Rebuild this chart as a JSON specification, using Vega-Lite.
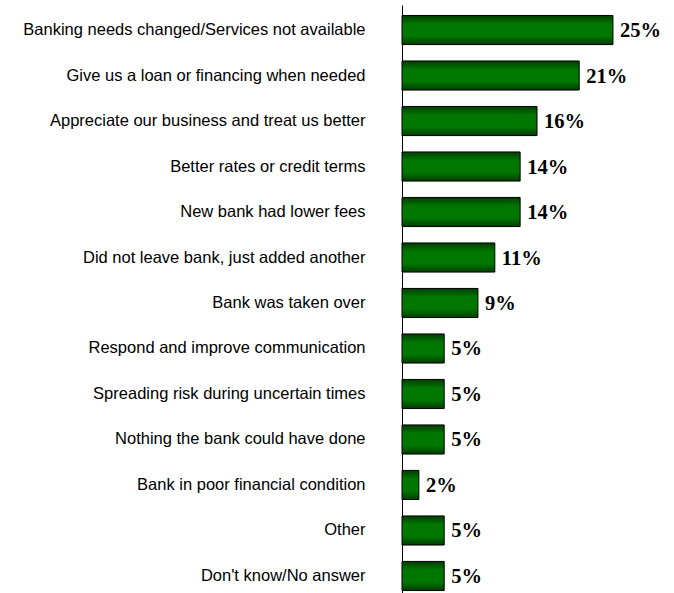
{
  "$schema": "https://vega.github.io/schema/vega-lite/v6.json",
  "width": 270,
  "height": 596,
  "autosize": "none",
  "padding": {"left": 402, "top": 5, "right": 2, "bottom": 0},
  "background": "white",
  "config": {"view": {"stroke": null}},
  "data": {"values": [
    {"reason": "Banking needs changed/Services not available", "pct": 25, "label": "25%"},
    {"reason": "Give us a loan or financing when needed", "pct": 21, "label": "21%"},
    {"reason": "Appreciate our business and treat us better", "pct": 16, "label": "16%"},
    {"reason": "Better rates or credit terms", "pct": 14, "label": "14%"},
    {"reason": "New bank had lower fees", "pct": 14, "label": "14%"},
    {"reason": "Did not leave bank, just added another", "pct": 11, "label": "11%"},
    {"reason": "Bank was taken over", "pct": 9, "label": "9%"},
    {"reason": "Respond and improve communication", "pct": 5, "label": "5%"},
    {"reason": "Spreading risk during uncertain times", "pct": 5, "label": "5%"},
    {"reason": "Nothing the bank could have done", "pct": 5, "label": "5%"},
    {"reason": "Bank in poor financial condition", "pct": 2, "label": "2%"},
    {"reason": "Other", "pct": 5, "label": "5%"},
    {"reason": "Don't know/No answer", "pct": 5, "label": "5%"}
  ]},
  "encoding": {
    "y": {
      "field": "reason", "type": "nominal", "sort": null,
      "scale": {"paddingInner": 0.36, "paddingOuter": 0.23},
      "axis": {
        "title": null, "ticks": false, "labelPadding": 37,
        "labelFont": "Liberation Sans", "labelFontSize": 16.5, "labelColor": "#000",
        "labelLimit": 400, "domainColor": "#000", "domainWidth": 1
      }
    },
    "x": {
      "field": "pct", "type": "quantitative",
      "scale": {"domain": [0, 32]},
      "axis": null
    }
  },
  "layer": [
    {
      "mark": {
        "type": "bar",
        "stroke": "#000",
        "strokeWidth": 1,
        "fill": {
          "gradient": "linear", "x1": 0, "y1": 0, "x2": 0, "y2": 1,
          "stops": [
            {"offset": 0, "color": "#003c00"},
            {"offset": 0.3, "color": "#007800"},
            {"offset": 0.7, "color": "#007800"},
            {"offset": 1, "color": "#003c00"}
          ]
        }
      }
    },
    {
      "mark": {
        "type": "text", "align": "left", "baseline": "middle", "dx": 7, "dy": 1,
        "font": "Liberation Serif", "fontWeight": "bold", "fontSize": 20.5, "color": "#000"
      },
      "encoding": {"text": {"field": "label", "type": "nominal"}}
    }
  ]
}
